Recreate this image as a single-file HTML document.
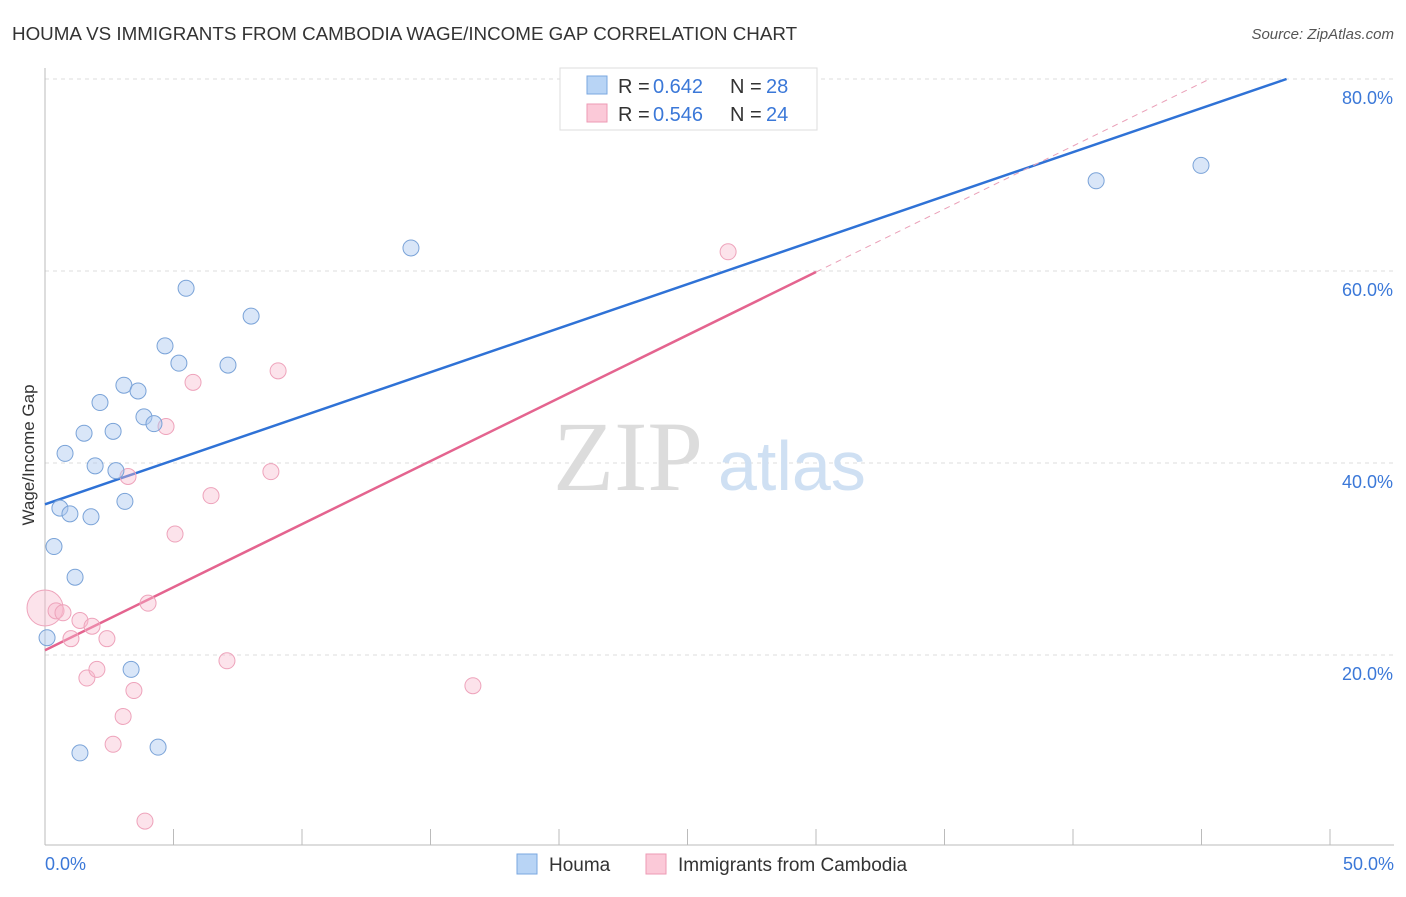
<!DOCTYPE html>
<html><head><meta charset="utf-8"><style>
body{margin:0;background:#fff;font-family:"Liberation Sans",sans-serif;}
</style></head><body>
<svg width="1406" height="892" viewBox="0 0 1406 892" font-family="Liberation Sans, sans-serif">
<text x="12" y="40" font-size="18.8" fill="#333">HOUMA VS IMMIGRANTS FROM CAMBODIA WAGE/INCOME GAP CORRELATION CHART</text>
<text x="1394" y="39" font-size="15" fill="#555" text-anchor="end" font-style="italic">Source: ZipAtlas.com</text>
<g id="grid"></g>
<text x="553" y="490" font-size="100" fill="#dcdcdc" style="font-family:'Liberation Serif',serif">ZIP</text>
<text x="718" y="490" font-size="70" fill="#cfe0f3">atlas</text>
<g id="lines"></g>
<g id="pts"></g>
<text x="34" y="455" font-size="17" fill="#333" text-anchor="middle" transform="rotate(-90 34 455)">Wage/Income Gap</text>
<text x="45" y="870" font-size="18" fill="#3b78d8">0.0%</text>
<text x="1394" y="870" font-size="18" fill="#3b78d8" text-anchor="end">50.0%</text>
<g>
<rect x="560" y="68" width="257" height="62" fill="#fff" stroke="#ddd"/>
<rect x="587" y="76" width="20" height="18" fill="#b8d4f5" stroke="#7aa7e0"/>
<rect x="587" y="104" width="20" height="18" fill="#fbc9d8" stroke="#ee9ab4"/>
<text y="93" font-size="20" fill="#333"><tspan x="618">R = </tspan><tspan x="653" fill="#3b78d8">0.642</tspan><tspan x="730">N = </tspan><tspan x="766" fill="#3b78d8">28</tspan></text>
<text y="121" font-size="20" fill="#333"><tspan x="618">R = </tspan><tspan x="653" fill="#3b78d8">0.546</tspan><tspan x="730">N = </tspan><tspan x="766" fill="#3b78d8">24</tspan></text>
</g>
<g>
<rect x="517" y="854" width="20" height="20" fill="#b8d4f5" stroke="#7aa7e0"/>
<text x="549" y="871" font-size="19" fill="#333">Houma</text>
<rect x="646" y="854" width="20" height="20" fill="#fbc9d8" stroke="#ee9ab4"/>
<text x="678" y="871" font-size="19" fill="#333">Immigrants from Cambodia</text>
</g>
</svg>
<script>
const blueX=[0.08,0.35,0.58,0.78,0.97,1.17,1.36,1.52,1.79,1.95,2.14,2.65,2.76,3.07,3.11,3.35,3.62,3.85,4.24,4.40,4.67,5.21,5.49,7.12,8.02,14.24,40.90,44.98];
const blueY=[21.8,31.3,35.3,41.0,34.7,28.1,9.8,43.1,34.4,39.7,46.3,43.3,39.2,48.1,36.0,18.5,47.5,44.8,44.1,10.4,52.2,50.4,58.2,50.2,55.3,62.4,69.4,71.0];
const pinkX=[0,0.43,0.70,1.01,1.36,1.63,1.83,2.02,2.41,2.65,3.04,3.23,3.46,3.89,4.01,4.71,5.06,5.76,6.46,7.08,8.79,9.07,16.65,26.58];
const pinkY=[24.9,24.6,24.4,21.7,23.6,17.6,23.0,18.5,21.7,10.7,13.6,38.6,16.3,2.7,25.4,43.8,32.6,48.4,36.6,19.4,39.1,49.6,16.8,62.0];
const yTicks=[20,40,60,80];
const blueFit=[35.7,0.917];
const pinkFit=[20.5,1.313];
const X=v=>45+v/50*1285, Y=v=>847-v*9.6;
const NS='http://www.w3.org/2000/svg';
function mk(t,a,p){const e=document.createElementNS(NS,t);for(const k in a)e.setAttribute(k,a[k]);p.appendChild(e);return e;}
const g=document.getElementById('grid');
yTicks.forEach(t=>{
 const l=mk('line',{x1:45,x2:1394,y1:Y(t),y2:Y(t),stroke:'#ddd','stroke-dasharray':'4 4'},g);
 
 
 const tx=mk('text',{x:1393,y:Y(t)+25,'font-size':18,fill:'#3b78d8','text-anchor':'end'},g);
 tx.textContent=t.toFixed(1)+'%';
 
 
});
const ax=mk('line',{x1:45,x2:1394,y1:845,y2:845,stroke:'#bbb'},g);


const ay=mk('line',{x1:45,x2:45,y1:68,y2:845,stroke:'#bbb'},g);


for(let i=0;i<=10;i++){const t=mk('line',{x1:X(i*5),x2:X(i*5),y1:829,y2:845,stroke:'#bbb'},g);
 
 }
const L=document.getElementById('lines');
const bEnd=(80-blueFit[0])/blueFit[1];
const bl=mk('line',{x1:X(0),y1:Y(blueFit[0]),x2:X(bEnd),y2:Y(80),stroke:'#2f72d6','stroke-width':2.5},L);


const pEnd=(80-pinkFit[0])/pinkFit[1];
const pd=mk('line',{x1:X(30),y1:Y(pinkFit[0]+pinkFit[1]*30),x2:X(pEnd),y2:Y(80),stroke:'#eaa0b8','stroke-width':1,'stroke-dasharray':'6 5'},L);


const pl=mk('line',{x1:X(0),y1:Y(pinkFit[0]),x2:X(30),y2:Y(pinkFit[0]+pinkFit[1]*30),stroke:'#e4648f','stroke-width':2.5},L);


const P=document.getElementById('pts');
pinkX.forEach((x,i)=>{const c=mk('circle',{cx:X(x),cy:Y(pinkY[i]),r:i==0?18:8,fill:'rgba(248,185,205,0.4)',stroke:'#eea3bb','stroke-width':1},P);
 
 });
blueX.forEach((x,i)=>{const c=mk('circle',{cx:X(x),cy:Y(blueY[i]),r:8,fill:'rgba(170,200,240,0.45)',stroke:'#7aa3d8','stroke-width':1},P);
 
 });
</script>
</body></html>
